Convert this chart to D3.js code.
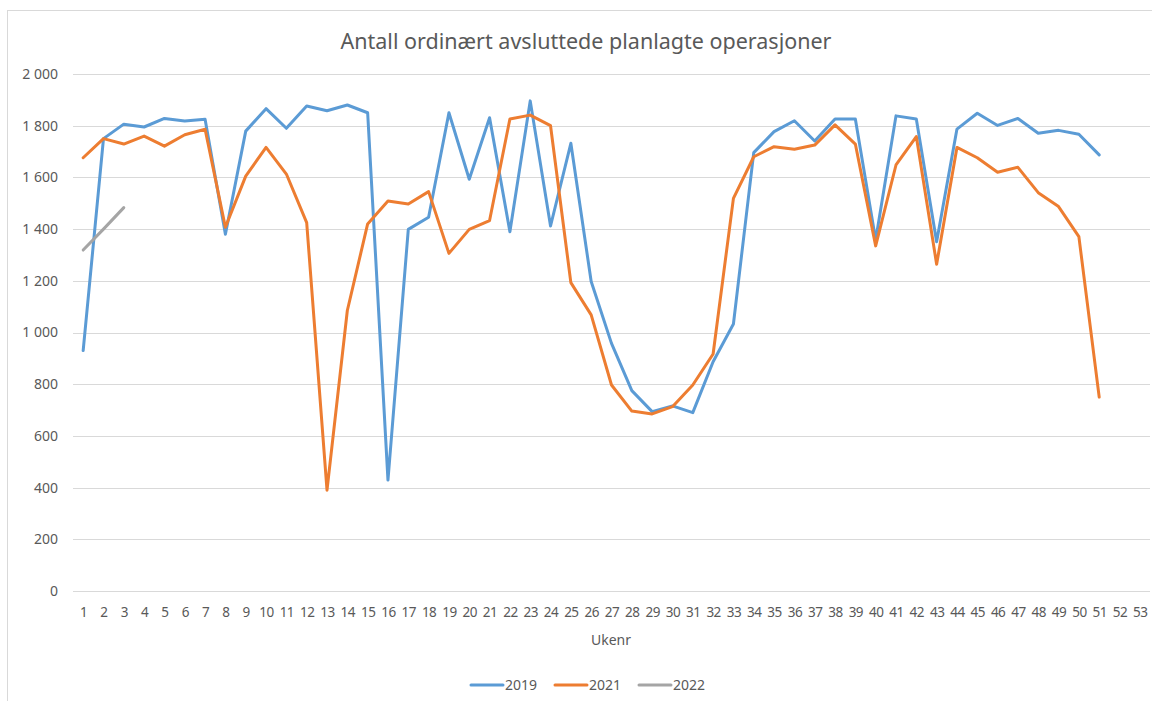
<!DOCTYPE html>
<html>
<head>
<meta charset="utf-8">
<script src="https://cdn.jsdelivr.net/npm/d3@7"></script>
<style>
  body { margin: 0; background: #fff; }
  svg { display: block; font-family: "Noto Sans", "Open Sans", sans-serif; }
</style>
</head>
<body>
<div id="chart"></div>
<script>
const width = 1152;
const height = 701;

const title = "Antall ordinært avsluttede planlagte operasjoner";
const xTitle = "Ukenr";
const weeks = d3.range(1, 54);
const yTicks = [0, 200, 400, 600, 800, 1000, 1200, 1400, 1600, 1800, 2000];

const years = ["2019", "2021", "2022"];
const colors = ["#5b9bd5", "#ed7d31", "#a5a5a5"];

// values per week, starting at week 1
const values2019 = [930, 1750, 1806, 1795, 1828, 1818, 1825, 1380, 1779, 1866,
  1790, 1876, 1858, 1880, 1850, 429, 1399, 1446, 1850, 1593,
  1831, 1390, 1896, 1412, 1732, 1197, 958, 775, 694, 716,
  690, 887, 1033, 1696, 1777, 1819, 1741, 1826, 1826, 1358,
  1838, 1826, 1351, 1787, 1848, 1801, 1828, 1771, 1782, 1767, 1687];
const values2021 = [1676, 1750, 1729, 1760, 1721, 1765, 1786, 1407, 1605, 1716,
  1613, 1425, 390, 1085, 1420, 1509, 1497, 1545, 1306, 1399,
  1433, 1826, 1841, 1800, 1193, 1068, 797, 696, 685, 713,
  797, 917, 1519, 1680, 1719, 1709, 1725, 1803, 1729, 1335,
  1648, 1758, 1264, 1716, 1676, 1620, 1639, 1541, 1487, 1371, 750];
const values2022 = [1319, 1400, 1483];

const series = [values2019, values2021, values2022];

const svg = d3.select("#chart").append("svg")
    .attr("width", width).attr("height", height);

// chart area border (only top/left visible)
svg.append("rect")
    .attr("x", 7.5).attr("y", 10.5)
    .attr("width", 1160).attr("height", 720)
    .attr("fill", "none").attr("stroke", "#d9d9d9");

const x = d3.scalePoint().domain(weeks).range([73, 1150]).padding(0.5);
const y = d3.scaleLinear().domain([0, 2000]).range([591, 74]);

// gridlines
svg.append("g").selectAll("line").data(yTicks).join("line")
    .attr("x1", 73).attr("x2", 1150)
    .attr("y1", d => Math.round(y(d)) + 0.5).attr("y2", d => Math.round(y(d)) + 0.5)
    .attr("stroke", "#d9d9d9").attr("stroke-width", 1);

const fmt = d => d3.format(",")(d).replace(",", " ");

const yAxis = svg.append("g")
    .attr("transform", "translate(64,0)")
    .call(d3.axisLeft(y).tickValues(yTicks).tickFormat(fmt).tickSize(0).tickPadding(6));
yAxis.select(".domain").remove();
yAxis.selectAll("text").attr("fill", "#595959").attr("font-size", 14)
    .attr("font-family", "Noto Sans");

const xAxis = svg.append("g")
    .attr("transform", "translate(0,591)")
    .call(d3.axisBottom(x).tickSize(0).tickPadding(16));
xAxis.select(".domain").remove();
xAxis.selectAll("text").attr("fill", "#595959").attr("font-size", 13.5)
    .attr("font-family", "Noto Sans").attr("letter-spacing", -0.5);

const line = d3.line()
    .x((d, i) => x(weeks[i]))
    .y(d => y(d));

svg.append("g").selectAll("path").data(series).join("path")
    .attr("d", d => line(d))
    .attr("fill", "none")
    .attr("stroke", (d, i) => colors[i])
    .attr("stroke-width", 3)
    .attr("stroke-linejoin", "round")
    .attr("stroke-linecap", "round");

svg.append("text")
    .attr("x", 586).attr("y", 49)
    .attr("text-anchor", "middle")
    .attr("fill", "#595959").attr("font-size", 21.5)
    .text(title);

svg.append("text")
    .attr("x", 611).attr("y", 645)
    .attr("text-anchor", "middle")
    .attr("fill", "#595959").attr("font-size", 14)
    .text(xTitle);

// legend
const legendX = [471, 555, 639];
const legend = svg.append("g").selectAll("g").data(years).join("g")
    .attr("transform", (d, i) => `translate(${legendX[i]},685)`);
legend.append("line")
    .attr("x1", 0).attr("x2", 32)
    .attr("stroke", (d, i) => colors[i]).attr("stroke-width", 3)
    .attr("stroke-linecap", "round");
legend.append("text")
    .attr("x", 34).attr("y", 5)
    .attr("fill", "#595959").attr("font-size", 14)
    .text(d => d);
</script>
</body>
</html>
